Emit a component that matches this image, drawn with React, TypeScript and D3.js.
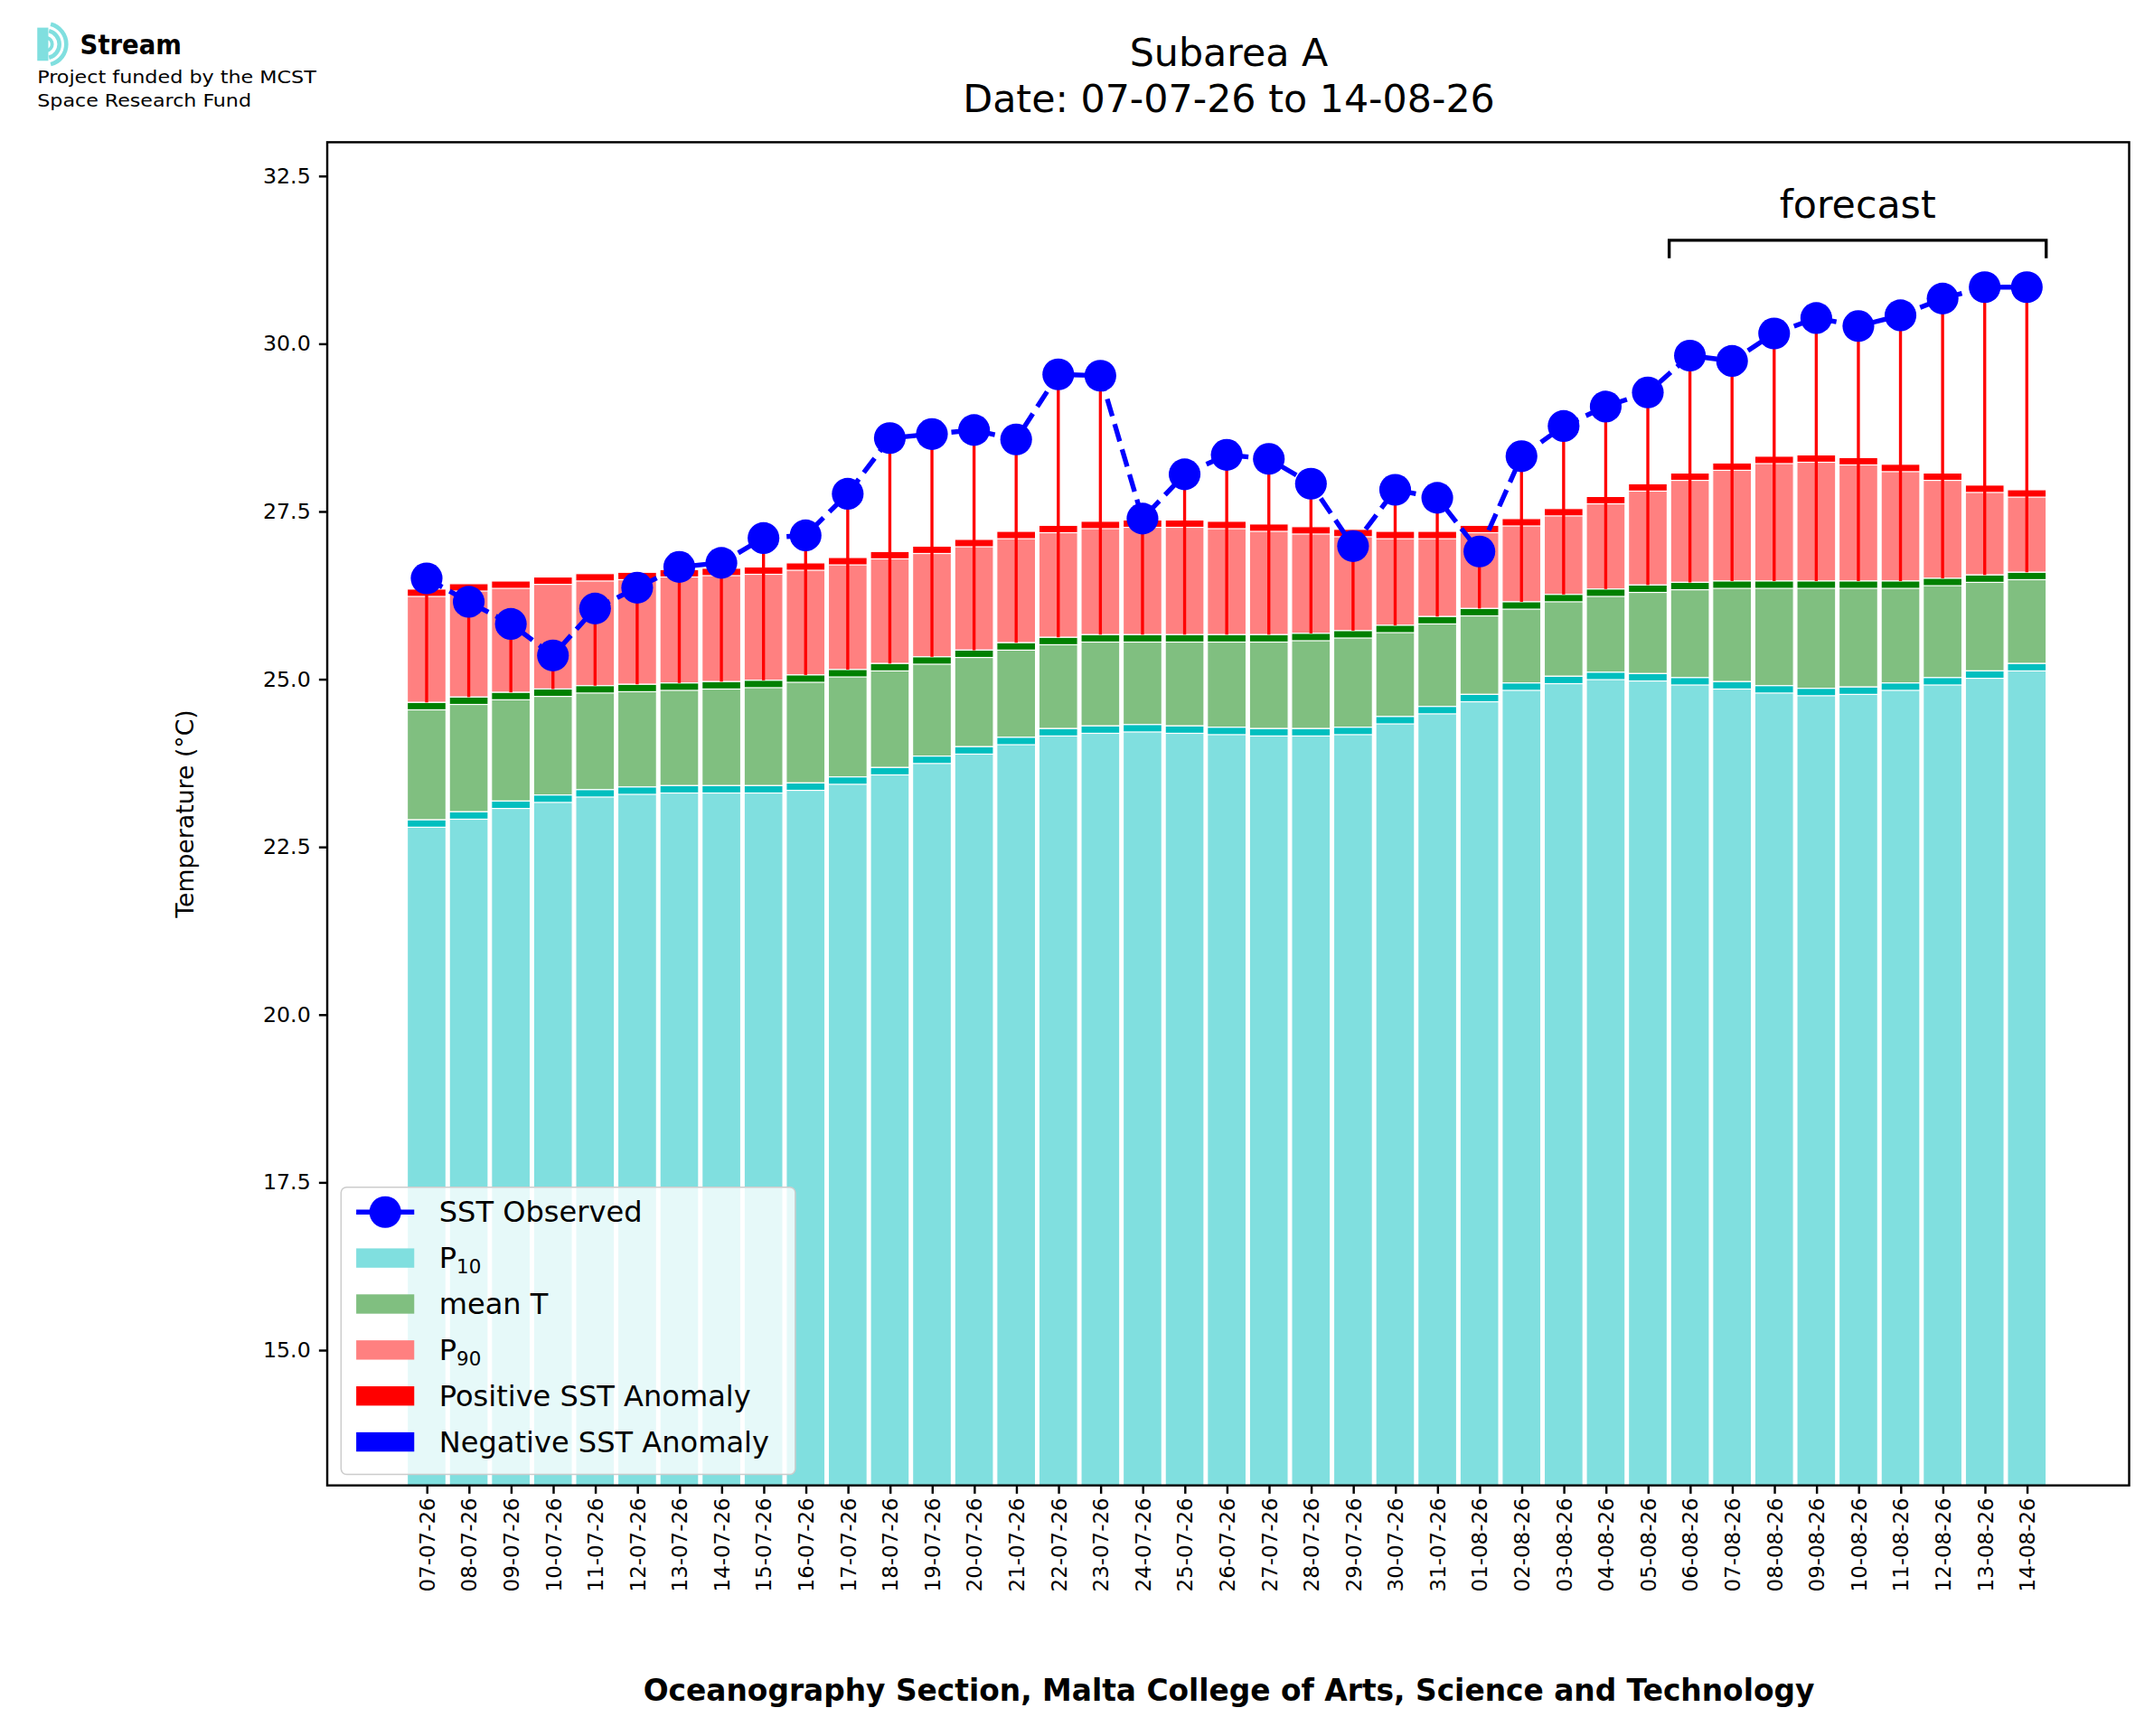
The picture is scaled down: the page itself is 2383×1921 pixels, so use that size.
import React, { useRef, useEffect } from 'react';
import * as d3 from 'd3';

const dates: string[] = [
    '07-07-26', '08-07-26', '09-07-26', '10-07-26', '11-07-26', '12-07-26', '13-07-26', '14-07-26',
    '15-07-26', '16-07-26', '17-07-26', '18-07-26', '19-07-26', '20-07-26', '21-07-26', '22-07-26',
    '23-07-26', '24-07-26', '25-07-26', '26-07-26', '27-07-26', '28-07-26', '29-07-26', '30-07-26',
    '31-07-26', '01-08-26', '02-08-26', '03-08-26', '04-08-26', '05-08-26', '06-08-26', '07-08-26',
    '08-08-26', '09-08-26', '10-08-26', '11-08-26', '12-08-26', '13-08-26', '14-08-26',
];
const sst: number[] = [
    26.5, 26.15, 25.82, 25.35, 26.05, 26.36, 26.67, 26.73, 27.1, 27.14, 27.76, 28.59, 28.65, 28.71,
    28.57, 29.54, 29.52, 27.39, 28.05, 28.34, 28.28, 27.91, 26.98, 27.82, 27.7, 26.9, 28.32, 28.77,
    29.06, 29.27, 29.82, 29.74, 30.15, 30.38, 30.26, 30.42, 30.67, 30.84, 30.84,
];
const p90: number[] = [
    26.34, 26.42, 26.46, 26.52, 26.57, 26.59, 26.63, 26.65, 26.67, 26.73, 26.81, 26.9, 26.98, 27.08,
    27.2, 27.29, 27.35, 27.37, 27.37, 27.35, 27.31, 27.27, 27.23, 27.2, 27.2, 27.29, 27.39, 27.54,
    27.72, 27.91, 28.07, 28.22, 28.32, 28.34, 28.3, 28.2, 28.07, 27.89, 27.82,
];
const meanT: number[] = [
    24.65, 24.73, 24.8, 24.85, 24.9, 24.92, 24.94, 24.96, 24.98, 25.06, 25.14, 25.23, 25.33, 25.43,
    25.54, 25.62, 25.66, 25.66, 25.66, 25.66, 25.66, 25.68, 25.72, 25.8, 25.93, 26.05, 26.15, 26.26,
    26.34, 26.4, 26.44, 26.46, 26.46, 26.46, 26.46, 26.46, 26.5, 26.55, 26.59,
];
const p10: number[] = [
    22.9, 23.02, 23.18, 23.27, 23.35, 23.39, 23.41, 23.41, 23.41, 23.45, 23.54, 23.68, 23.85, 23.99,
    24.13, 24.26, 24.3, 24.32, 24.3, 24.28, 24.26, 24.26, 24.28, 24.44, 24.59, 24.77, 24.94, 25.04,
    25.1, 25.08, 25.02, 24.96, 24.9, 24.86, 24.88, 24.94, 25.02, 25.12, 25.23,
];
const yTicks: number[] = [15, 17.5, 20, 22.5, 25, 27.5, 30, 32.5];
const forecastStart = 30;

const font = 'DejaVu Sans, sans-serif';
const condensed = '"DejaVu Sans Condensed", "Liberation Sans Narrow", DejaVu Sans, sans-serif';

const App: React.FC = () => {
    const svgRef = useRef<SVGSVGElement | null>(null);

    useEffect(() => {
        const svg = d3.select(svgRef.current);
        svg.selectAll('*').remove();
        const left = 237, right = 1542, top = 103, bottom = 1076;
        const n = dates.length;
        const x = d3.scaleLinear().domain([-2.36, n - 1 + 2.43]).range([left, right]);
        const y = d3.scaleLinear().domain([12.98, 33.0]).range([bottom, top]);
        const bw = x(0.92) - x(0);
        const band = 0.11;

        const g = svg.append('g');
        const idx = d3.range(n);

        const bars = (lo: (i: number) => number, hi: (i: number) => number, fill: string) => {
            g.selectAll(null).data(idx).enter().append('rect')
                .attr('x', i => x(i) - bw / 2)
                .attr('width', bw)
                .attr('y', i => y(hi(i)))
                .attr('height', i => y(lo(i)) - y(hi(i)))
                .attr('fill', fill)
                .attr('stroke', 'white')
                .attr('stroke-width', 0.8);
        };
        bars(() => 12.98, i => p10[i], '#80dfdf');
        bars(i => p10[i], i => meanT[i], '#80bf80');
        bars(i => meanT[i], i => p90[i], '#ff8080');
        bars(i => p10[i] - band, i => p10[i], '#00bfbf');
        bars(i => meanT[i] - band, i => meanT[i], '#008000');
        bars(i => p90[i] - band, i => p90[i], '#ff0000');

        // anomaly lines
        g.selectAll(null).data(idx).enter().append('line')
            .attr('x1', i => x(i)).attr('x2', i => x(i))
            .attr('y1', i => y(meanT[i])).attr('y2', i => y(sst[i]))
            .attr('stroke', i => (sst[i] >= meanT[i] ? 'red' : 'blue'))
            .attr('stroke-width', 2.2);

        const line = d3.line<number>().x(i => x(i)).y(i => y(sst[i]));
        g.append('path').datum(idx).attr('d', line)
            .attr('fill', 'none').attr('stroke', 'blue').attr('stroke-width', 3.5)
            .attr('stroke-dasharray', '13,6');
        g.selectAll(null).data(idx).enter().append('circle')
            .attr('cx', i => x(i)).attr('cy', i => y(sst[i])).attr('r', 11.5).attr('fill', 'blue');

        // axes frame
        svg.append('rect').attr('x', left).attr('y', top).attr('width', right - left).attr('height', bottom - top)
            .attr('fill', 'none').attr('stroke', 'black').attr('stroke-width', 1.6);

        const ya = svg.append('g').attr('transform', `translate(${left},0)`)
            .call(d3.axisLeft(y).tickValues(yTicks).tickFormat(d3.format('.1f')).tickSize(6).tickPadding(6));
        ya.select('.domain').remove();
        ya.selectAll('line').attr('stroke-width', 1.6);
        ya.selectAll('text').attr('font-size', 15.5).attr('font-family', font);

        const xa = svg.append('g').attr('transform', `translate(0,${bottom})`)
            .call(d3.axisBottom(x).tickValues(idx).tickFormat(i => dates[+i]).tickSize(6));
        xa.select('.domain').remove();
        xa.selectAll('line').attr('stroke-width', 1.6);
        xa.selectAll('text').attr('font-size', 15).attr('font-family', font)
            .attr('transform', 'rotate(-90)').attr('text-anchor', 'end')
            .attr('x', -9).attr('y', 0).attr('dy', '0.35em');

        svg.append('text').attr('transform', `translate(140,${(top + bottom) / 2}) rotate(-90)`)
            .attr('text-anchor', 'middle').attr('font-size', 17.5).attr('font-family', font)
            .text('Temperature (°C)');
        svg.append('text').attr('x', 890).attr('y', 1232).attr('text-anchor', 'middle')
            .attr('font-size', 21.5).attr('font-weight', 'bold').attr('font-family', font)
            .text('Oceanography Section, Malta College of Arts, Science and Technology');

        svg.append('text').attr('x', 890).attr('y', 48).attr('text-anchor', 'middle')
            .attr('font-size', 28).attr('font-family', font).text('Subarea A');
        svg.append('text').attr('x', 890).attr('y', 81).attr('text-anchor', 'middle')
            .attr('font-size', 28).attr('font-family', font).text('Date: 07-07-26 to 14-08-26');

        // forecast bracket
        const fx1 = x(forecastStart) - bw / 2 - 1, fx2 = x(n - 1) + bw / 2;
        svg.append('path').attr('d', `M${fx1},187 V174 H${fx2} V187`)
            .attr('fill', 'none').attr('stroke', 'black').attr('stroke-width', 2.2);
        svg.append('text').attr('x', (fx1 + fx2) / 2).attr('y', 158).attr('text-anchor', 'middle')
            .attr('font-size', 28).attr('font-family', font).text('forecast');

        // legend
        const lg = svg.append('g');
        lg.append('rect').attr('x', 247).attr('y', 860).attr('width', 329).attr('height', 208).attr('rx', 4)
            .attr('fill', 'white').attr('fill-opacity', 0.8).attr('stroke', '#cccccc').attr('stroke-width', 1);
        const items: { label: string; sub?: string; color?: string; line?: boolean }[] = [
            { label: 'SST Observed', line: true },
            { label: 'P', sub: '10', color: '#80dfdf' },
            { label: 'mean T', color: '#80bf80' },
            { label: 'P', sub: '90', color: '#ff8080' },
            { label: 'Positive SST Anomaly', color: '#ff0000' },
            { label: 'Negative SST Anomaly', color: '#0000ff' },
        ];
        items.forEach((it, k) => {
            const cy = 878 + k * 33.3;
            if (it.line) {
                lg.append('line').attr('x1', 258).attr('x2', 300).attr('y1', cy).attr('y2', cy)
                    .attr('stroke', 'blue').attr('stroke-width', 3.5);
                lg.append('circle').attr('cx', 279).attr('cy', cy).attr('r', 11.5).attr('fill', 'blue');
            } else {
                lg.append('rect').attr('x', 258).attr('y', cy - 7).attr('width', 42).attr('height', 14)
                    .attr('fill', it.color!);
            }
            const t = lg.append('text').attr('x', 318).attr('y', cy).attr('dy', '0.35em')
                .attr('font-size', 21).attr('font-family', font).text(it.label);
            if (it.sub) t.append('tspan').attr('font-size', 14).attr('dy', 4).text(it.sub);
        });

        // logo
        const logo = svg.append('g');
        [6, 11, 16].forEach((r, k) => {
            logo.append('path')
                .attr('d', d3.arc()({ innerRadius: r - 2.5, outerRadius: r + (k === 0 ? 0 : 0.5), startAngle: 0.25, endAngle: Math.PI - 0.25 }) as string)
                .attr('transform', 'translate(33,32)').attr('fill', '#80dfdf');
        });
        logo.append('rect').attr('x', 27).attr('y', 20).attr('width', 8).attr('height', 24).attr('fill', '#80dfdf');
        logo.append('text').attr('x', 58).attr('y', 39).attr('font-size', 20).attr('font-weight', 'bold')
            .attr('font-family', condensed).text('Stream');
        logo.append('text').attr('x', 27).attr('y', 60).attr('font-size', 13).attr('font-family', condensed)
            .attr('textLength', 202).attr('lengthAdjust', 'spacingAndGlyphs').text('Project funded by the MCST');
        logo.append('text').attr('x', 27).attr('y', 77).attr('font-size', 13).attr('font-family', condensed)
            .attr('textLength', 155).attr('lengthAdjust', 'spacingAndGlyphs').text('Space Research Fund');
    }, []);

    return (
        <svg ref={svgRef} width={2383} height={1921} viewBox="0 0 1560 1257.5"
            style={{ display: 'block', position: 'absolute', left: 0, top: 0 }}></svg>
    );
};

export default App;
